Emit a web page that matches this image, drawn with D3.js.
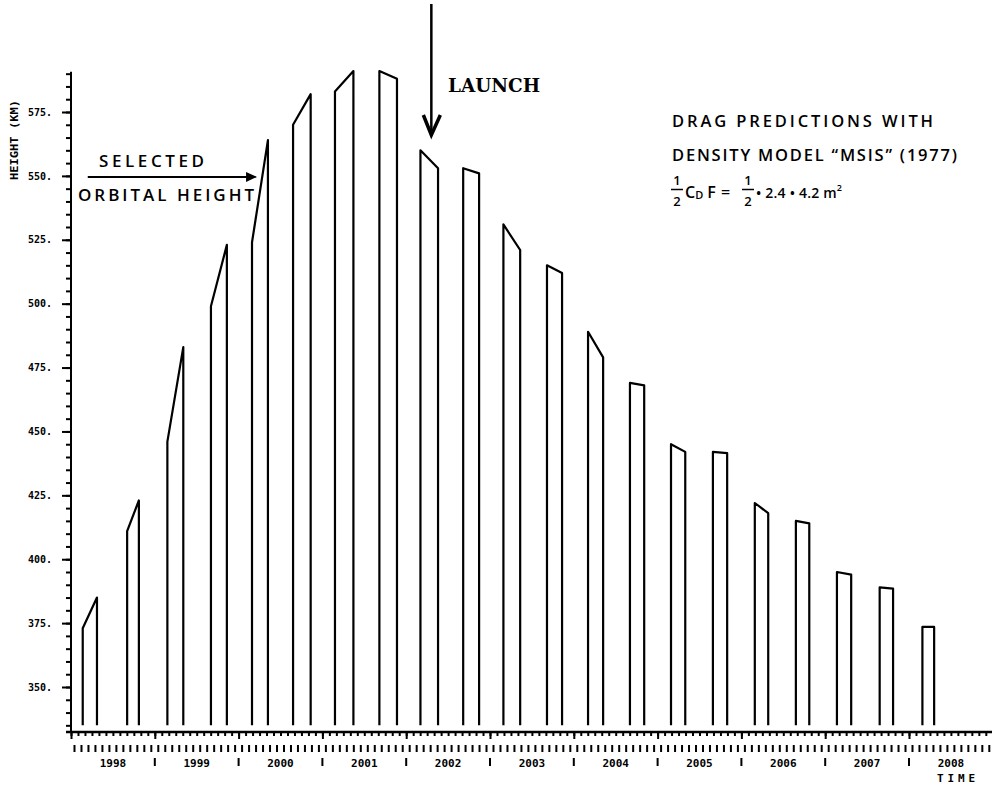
<!DOCTYPE html>
<html>
<head>
<meta charset="utf-8">
<script src="https://cdnjs.cloudflare.com/ajax/libs/d3/7.8.5/d3.min.js"></script>
<style>
body { margin: 0; background: #fff; }
svg { display: block; }
.axis path { display: none; }
.axis line { stroke: #000; stroke-width: 2; }
.lbl { font-family: "DejaVu Sans Mono", monospace; font-weight: bold; fill: #000; }
.note { font-family: "Open Sans", sans-serif; font-weight: 600; fill: #000; }
</style>
</head>
<body>
<script>
// one tooth per re-boost cycle (decimal years), heights in km
var cycleStart = [1998.14, 1998.67, 1999.15, 1999.67, 2000.16, 2000.65, 2001.15, 2001.68, 2002.17, 2002.68, 2003.16,
                  2003.68, 2004.17, 2004.67, 2005.16, 2005.66, 2006.16, 2006.65, 2007.14, 2007.65, 2008.16];
var cycleEnd   = [1998.31, 1998.81, 1999.34, 1999.86, 2000.35, 2000.86, 2001.37, 2001.89, 2002.38, 2002.87, 2003.36,
                  2003.86, 2004.35, 2004.84, 2005.33, 2005.83, 2006.32, 2006.81, 2007.31, 2007.81, 2008.30];
var heightStart = [373, 411, 446, 499, 524, 570, 583, 591, 560, 553, 531, 515, 489, 469, 445, 442, 422, 415, 395, 389, 373.5];
var heightEnd   = [385, 423, 483, 523, 564, 582, 591, 588, 553, 551, 521, 512, 479, 468, 442, 441.5, 418, 414, 394, 388.5, 373.5];
var baseHeight = 335;

var heightLabels = [350, 375, 400, 425, 450, 475, 500, 525, 550, 575];
var yearLabels = [1998, 1999, 2000, 2001, 2002, 2003, 2004, 2005, 2006, 2007, 2008];

var launchTime = 2002.3;
var selectedHeight = 550;

var width = 992, height = 786;

var svg = d3.select("body").append("svg")
    .attr("width", width)
    .attr("height", height);

var x = d3.scaleLinear().domain([1998, 2009]).range([71, 992.8]);
var y = d3.scaleLinear().domain([350, 575]).range([687, 112]);

// y axis: minor ticks every 5 km, labelled every 25 km
svg.append("g")
    .attr("class", "axis")
    .attr("transform", "translate(71,0)")
    .call(d3.axisLeft(y).tickValues(d3.range(335, 591, 5)).tickSize(5).tickFormat(""));

var yAx = svg.append("g")
    .attr("class", "axis")
    .attr("transform", "translate(71,0)")
    .call(d3.axisLeft(y).tickValues(heightLabels).tickSize(9).tickPadding(10)
          .tickFormat(function(d) { return d + "."; }));
yAx.selectAll("text")
    .attr("class", "lbl")
    .style("font-size", "10px");

svg.append("line")
    .attr("x1", 71).attr("x2", 71)
    .attr("y1", y(590) - 2).attr("y2", 733)
    .attr("stroke", "#000").attr("stroke-width", 2);

// y title
svg.append("text")
    .attr("class", "lbl")
    .attr("transform", "translate(18,140) rotate(-90)")
    .attr("text-anchor", "middle")
    .attr("textLength", 80)
    .attr("lengthAdjust", "spacingAndGlyphs")
    .style("font-size", "11px")
    .text("HEIGHT (KM)");

// x axis: monthly ticks, longer at each year
var months = d3.range(0, 133).map(function(i) { return 1998 + i / 12; });
svg.append("g")
    .attr("class", "axis")
    .attr("transform", "translate(0,732)")
    .call(d3.axisBottom(x).tickValues(months).tickSize(4).tickFormat(""));
svg.append("g")
    .attr("class", "axis")
    .attr("transform", "translate(0,732)")
    .call(d3.axisBottom(x).tickValues(yearLabels.concat([2009])).tickSize(7).tickFormat(""));

svg.append("line")
    .attr("x1", 66).attr("x2", width)
    .attr("y1", 732).attr("y2", 732)
    .attr("stroke", "#000").attr("stroke-width", 2.5);

// row of month marks
svg.selectAll(".month")
    .data(months.slice(0, 132))
    .enter().append("rect")
    .attr("class", "month")
    .attr("x", function(d) { return x(d + 1 / 24) - 1; })
    .attr("y", 745)
    .attr("width", 2)
    .attr("height", 7)
    .attr("fill", "#000");

// year separators
svg.selectAll(".ysep")
    .data(yearLabels.slice(1))
    .enter().append("rect")
    .attr("class", "ysep")
    .attr("x", function(d) { return x(d) - 1; })
    .attr("y", 758)
    .attr("width", 2)
    .attr("height", 8)
    .attr("fill", "#000");

svg.selectAll(".year")
    .data(yearLabels)
    .enter().append("text")
    .attr("class", "lbl year")
    .attr("x", function(d) { return x(d + 0.5); })
    .attr("y", 767)
    .attr("text-anchor", "middle")
    .style("font-size", "11px")
    .text(function(d) { return d; });

svg.append("text")
    .attr("class", "lbl")
    .attr("x", 956).attr("y", 782)
    .attr("text-anchor", "middle")
    .attr("textLength", 38)
    .style("font-size", "11px")
    .text("TIME");

// teeth
var line = d3.line()
    .x(function(d) { return x(d[0]); })
    .y(function(d) { return y(d[1]); });

svg.selectAll(".cycle")
    .data(d3.range(cycleStart.length))
    .enter().append("path")
    .attr("class", "cycle")
    .attr("d", function(i) {
        return line([[cycleStart[i], baseHeight], [cycleStart[i], heightStart[i]],
                     [cycleEnd[i], heightEnd[i]], [cycleEnd[i], baseHeight]]);
    })
    .attr("fill", "none")
    .attr("stroke", "#000")
    .attr("stroke-width", 2.2)
    .attr("stroke-linejoin", "round");

// launch arrow
var lx = x(launchTime);
svg.append("line")
    .attr("x1", lx).attr("x2", lx)
    .attr("y1", 4).attr("y2", y(566))
    .attr("stroke", "#000").attr("stroke-width", 2.5);
svg.append("polyline")
    .attr("points", [[lx - 8, y(566) - 20], [lx, y(566)], [lx + 9, y(566) - 20]].join(" "))
    .attr("fill", "none").attr("stroke", "#000").attr("stroke-width", 3.5);
svg.append("text")
    .attr("x", 448).attr("y", 92)
    .attr("textLength", 92)
    .attr("lengthAdjust", "spacingAndGlyphs")
    .style("font-family", "'DejaVu Serif', serif")
    .style("font-weight", "bold")
    .style("font-size", "18px")
    .text("LAUNCH");

// selected orbital height arrow
var sy = y(selectedHeight) + 1;
svg.append("line")
    .attr("x1", x(1998.2)).attr("x2", x(2000.2))
    .attr("y1", sy).attr("y2", sy)
    .attr("stroke", "#000").attr("stroke-width", 2);
svg.append("path")
    .attr("d", "M" + (x(2000.22) - 11) + "," + (sy - 5) + "L" + x(2000.22) + "," + sy + "L" + (x(2000.22) - 11) + "," + (sy + 5) + "Z")
    .attr("fill", "#000");
svg.append("text")
    .attr("class", "note")
    .attr("x", 99).attr("y", 167)
    .attr("textLength", 105)
    .style("font-size", "17px")
    .text("SELECTED");
svg.append("text")
    .attr("class", "note")
    .attr("x", 78).attr("y", 201)
    .attr("textLength", 176)
    .style("font-size", "17px")
    .text("ORBITAL HEIGHT");

// model note
svg.append("text")
    .attr("class", "note")
    .attr("x", 672).attr("y", 127)
    .attr("textLength", 261)
    .style("font-size", "16.5px")
    .text("DRAG PREDICTIONS WITH");
svg.append("text")
    .attr("class", "note")
    .attr("x", 672).attr("y", 161)
    .attr("textLength", 285)
    .style("font-size", "16.5px")
    .text("DENSITY MODEL \u201CMSIS\u201D (1977)");

function half(cx) {
    svg.append("text").attr("class", "note").attr("x", cx).attr("y", 185)
        .attr("text-anchor", "middle").style("font-size", "13px").text("1");
    svg.append("line").attr("x1", cx - 6).attr("x2", cx + 6).attr("y1", 189.5).attr("y2", 189.5)
        .attr("stroke", "#000").attr("stroke-width", 1.5);
    svg.append("text").attr("class", "note").attr("x", cx).attr("y", 206)
        .attr("text-anchor", "middle").style("font-size", "13px").text("2");
}
half(677);
half(748);

var f = svg.append("text").attr("class", "note").attr("x", 685).attr("y", 198).style("font-size", "16px");
f.append("tspan").text("C");
f.append("tspan").attr("dy", 1).style("font-size", "11px").text("D");
f.append("tspan").attr("dy", -1).attr("dx", 4).text("F");
svg.append("text").attr("class", "note").attr("x", 721).attr("y", 198).style("font-size", "16px").text("=");

var g2 = svg.append("text").attr("class", "note").attr("x", 756).attr("y", 198).style("font-size", "14px")
    .attr("textLength", 86);
g2.append("tspan").text("\u2022 2.4 \u2022 4.2 m");
g2.append("tspan").attr("dy", -7).style("font-size", "9px").text("2");
</script>
</body>
</html>
